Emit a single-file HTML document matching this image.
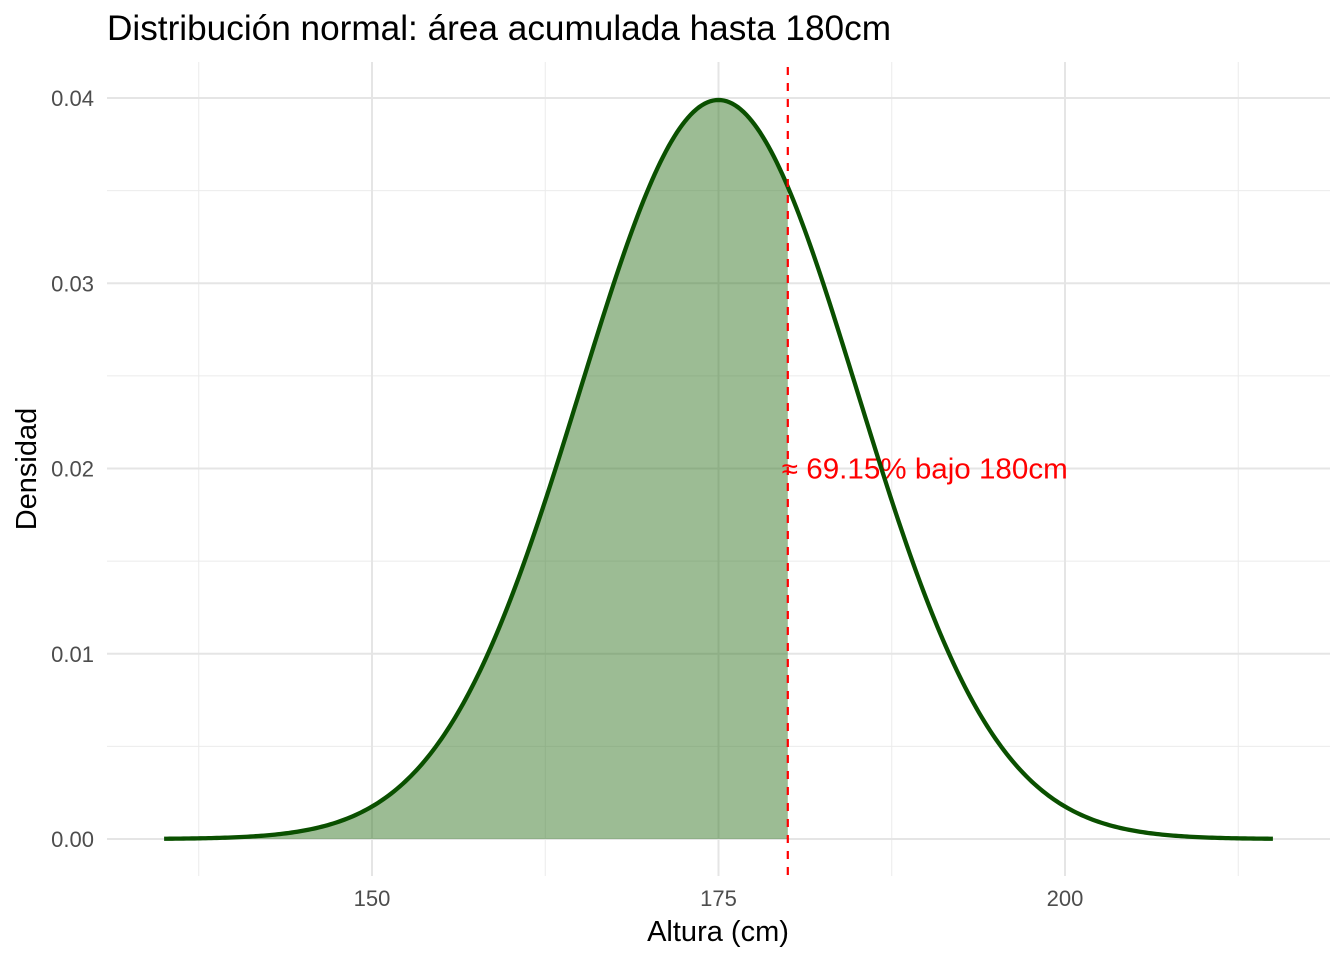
<!DOCTYPE html>
<html><head><meta charset="utf-8"><style>
html,body{margin:0;padding:0;background:#fff;}
svg text{font-family:"Liberation Sans",Arial,sans-serif;}
</style></head><body>
<svg id="chart" width="1344" height="960" xmlns="http://www.w3.org/2000/svg">
<rect width="1344" height="960" fill="#fff"/>
<g id="grid"></g>
<g id="marks"></g>
<g id="axes"></g>
<text x="107" y="40" font-size="35" textLength="784" lengthAdjust="spacingAndGlyphs" fill="#000">Distribución normal: área acumulada hasta 180cm</text>
<text x="718" y="941" font-size="29" text-anchor="middle" fill="#000">Altura (cm)</text>
<text transform="translate(36,469) rotate(-90)" font-size="29" text-anchor="middle" fill="#000">Densidad</text>
</svg>
<script>
const xTicks = [150, 175, 200];
const yTicks = [0.00, 0.01, 0.02, 0.03, 0.04];
const yTickLabels = ["0.00", "0.01", "0.02", "0.03", "0.04"];
const distMean = [175];
const distSd = [10];
const xRange = [135, 215];
const cutoff = [180];
const annotationText = ["≈ 69.15% bajo 180cm"];

const NS = "http://www.w3.org/2000/svg";
const xs = v => 372 + (v - 150) * (346.5 / 25);
const ys = v => 839 - v * 18525;
const P = {l:107, r:1330, t:62, b:876};
function mk(tag, attrs, parent){
  const e = document.createElementNS(NS, tag);
  for (const k in attrs) e.setAttribute(k, attrs[k]);
  parent.appendChild(e); return e;
}
const grid = document.getElementById('grid');
const marks = document.getElementById('marks');
const axes = document.getElementById('axes');
const xStep = xTicks[1] - xTicks[0];
for (let v = xTicks[0] - xStep/2; xs(v) <= P.r; v += xStep) {
  if (xs(v) < P.l) continue;
  const l = mk('line', {x1:xs(v), x2:xs(v), y1:P.t, y2:P.b, stroke:'#ebebeb', 'stroke-width':1}, grid);
  
  
}
const yStep = yTicks[1] - yTicks[0];
for (let i = 0; i < yTicks.length; i++) {
  const v = yTicks[i] + yStep/2;
  if (ys(v) < P.t) continue;
  const l = mk('line', {x1:P.l, x2:P.r, y1:ys(v), y2:ys(v), stroke:'#ebebeb', 'stroke-width':1}, grid);
  
  
}
xTicks.forEach(v => {
  const l = mk('line', {x1:xs(v), x2:xs(v), y1:P.t, y2:P.b, stroke:'#e5e5e5', 'stroke-width':2}, grid);
  
  
  const t = mk('text', {x:xs(v), y:906, 'font-size':22, fill:'#4d4d4d', 'text-anchor':'middle'}, axes);
  t.textContent = v;
  
  
});
yTicks.forEach((v, i) => {
  const l = mk('line', {x1:P.l, x2:P.r, y1:ys(v), y2:ys(v), stroke:'#e5e5e5', 'stroke-width':2}, grid);
  
  
  const t = mk('text', {x:94, y:ys(v)+8, 'font-size':22, fill:'#4d4d4d', 'text-anchor':'end'}, axes);
  t.textContent = yTickLabels[i];
  
  
});
const mu = distMean[0], sd = distSd[0];
const dens = x => Math.exp(-0.5*((x-mu)/sd)**2) / (sd*Math.sqrt(2*Math.PI));
const pts = [];
for (let i = 0; i <= 400; i++) { const x = xRange[0] + (xRange[1]-xRange[0])*i/400; pts.push([x, dens(x)]); }
let fd = `M${xs(xRange[0])},${ys(0)}`;
pts.filter(p => p[0] <= cutoff[0]).forEach(p => fd += ` L${xs(p[0])},${ys(p[1])}`);
fd += ` L${xs(cutoff[0])},${ys(dens(cutoff[0]))} L${xs(cutoff[0])},${ys(0)} Z`;
const area = mk('path', {d:fd, fill:'#3a7a2a', 'fill-opacity':0.5}, marks);


const ann = mk('text', {x:xs(cutoff[0])-6, y:ys(0.02)+10, 'font-size':29, fill:'#ff0000', textLength:286, lengthAdjust:'spacingAndGlyphs'}, marks);
ann.textContent = annotationText[0];


const curve = mk('path', {d:'M'+pts.map(p => xs(p[0])+','+ys(p[1])).join(' L'), fill:'none', stroke:'#0a5000', 'stroke-width':4.3}, marks);


const vl = mk('line', {x1:xs(cutoff[0]), x2:xs(cutoff[0]), y1:P.t+5, y2:P.b, stroke:'#ff0000', 'stroke-width':2.2, 'stroke-dasharray':'8,8'}, marks);


</script>
</body></html>
